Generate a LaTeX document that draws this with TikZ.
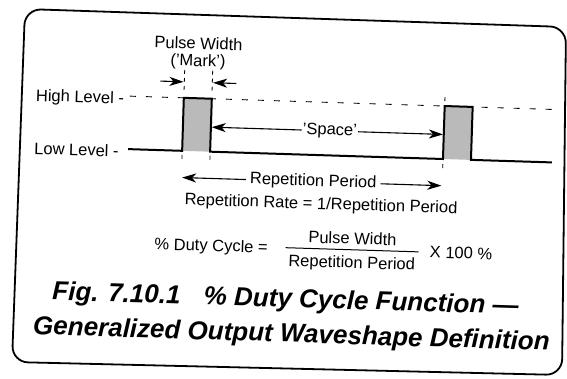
\documentclass[tikz,border=0pt]{standalone}
\usepackage{fontspec}
\setmainfont{Liberation Sans}
\usetikzlibrary{arrows.meta}
\begin{document}
\begin{tikzpicture}[x=1pt,y=-1pt,
  lbl/.style={font=\fontsize{16.5}{18}\selectfont, inner sep=0pt, transform shape},
  capt/.style={font=\fontsize{26}{30}\selectfont\bfseries\itshape, inner sep=0pt, transform shape},
  wave/.style={line width=2pt, line join=miter},
  arr/.style={line width=1.1pt, -{Stealth[length=14pt,width=9pt,inset=4pt]}, shorten >=0.8pt},
  hdash/.style={line width=0.9pt, dash pattern=on 6pt off 10pt},
  vtick/.style={line width=0.8pt, dash pattern=on 4pt off 4pt},
  pulsefill/.style={fill=black!27},
  frame/.style={line width=1.8pt, rounded corners=16pt}
]
\useasboundingbox (0,0) rectangle (567,378);
% outer frame (drawn in image coordinates)
\coordinate (ftl) at (25,9);
\coordinate (ftr) at (566,27);
\coordinate (fbr) at (562,375);
\coordinate (fbl) at (12,362);
\draw[frame] (ftl) -- (ftr) -- (fbr) -- (fbl) -- cycle;

\begin{scope}[rotate around={-1.8:(283,189)}]
  % levels
  \coordinate (x1) at (181,154);
  \coordinate (x2) at (209,154);
  \coordinate (x3) at (442,154);
  \coordinate (x4) at (470,154);
  \coordinate (hs) at (127,101);
  \coordinate (he) at (553,101);
  \coordinate (ls) at (127,154);
  \coordinate (le) at (551,154);

  \node[lbl, anchor=base west] (hi) at (33,109) {High Level -};
  \node[lbl, anchor=base west] (lo) at (33,162) {Low Level -};

  % high level dashed reference
  \draw[hdash] (hs) -- (he);
  % pulses
  \fill[pulsefill] (181,101) rectangle (209,154);
  \fill[pulsefill] (442,101) rectangle (470,154);
  \draw[wave] (ls) -- (x1) -- (181,101) -- (209,101) -- (x2) -- (x3)
              -- (442,101) -- (470,101) -- (x4) -- (le);

  % vertical tick marks
  \draw[vtick] (181,73) -- (181,97);
  \draw[vtick] (209,73) -- (209,97);
  \draw[vtick] (181,158) -- (181,166);
  \draw[vtick] (209,158) -- (209,166);
  \draw[vtick] (442,92) -- (442,97);
  \draw[vtick] (442,159) -- (442,167);

  % pulse width label and arrows
  \node[lbl, anchor=base] (pw) at (194,52) {Pulse Width};
  \node[lbl, anchor=base] (mk) at (194,69) {('Mark')};
  \coordinate (ma) at (157,85);
  \coordinate (mb) at (233,85);
  \draw[arr] (ma) -- (ma -| x1);
  \draw[arr] (mb) -- (mb -| x2);

  % space
  \node[lbl, anchor=base, inner sep=1pt] (sp) at (328,133.5) {'Space'};
  \draw[arr] (sp.west) -- (sp.west -| x2);
  \draw[arr] (sp.east) -- (sp.east -| x3);

  % repetition period
  \node[lbl, anchor=base, inner sep=4pt] (rp) at (313,185) {Repetition Period};
  \draw[arr] (rp.west) -- (rp.west -| x1);
  \draw[arr] (rp.east) -- (rp.east -| x3);

  % formulas
  \node[lbl, anchor=base] (rr) at (321.5,208) {Repetition Rate = 1/Repetition Period};
  \node[lbl, anchor=base] (dc) at (213,253.5) {\% Duty Cycle =};
  \coordinate (fb1) at (287.5,247.6);
  \coordinate (fb2) at (420.5,247.6);
  \draw[line width=1pt] (fb1) -- (fb2);
  \node[lbl, anchor=base] (num) at (354,242) {Pulse Width};
  \node[lbl, anchor=base] (den) at (354,266) {Repetition Period};
  \node[lbl, anchor=base] (xh) at (463,253) {X 100 \%};

  % caption
  \node[capt, anchor=base] (c1) at (289,307) {Fig. 7.10.1\hspace{0.9em}\% Duty Cycle Function —};
  \node[capt, anchor=base] (c2) at (296,342) {Generalized Output Waveshape Definition};
\end{scope}
\end{tikzpicture}
\end{document}
